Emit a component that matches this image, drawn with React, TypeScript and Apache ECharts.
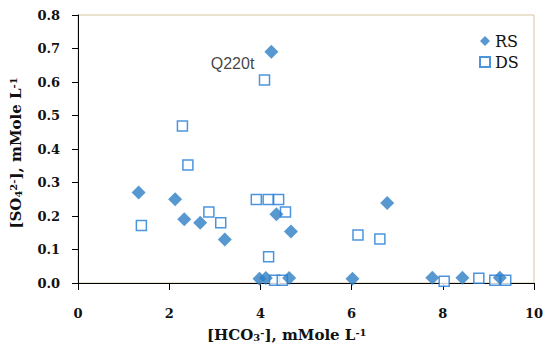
import React, { useEffect, useRef } from "react";
import * as echarts from "echarts";

const rsX = [1.33, 2.13, 2.33, 2.68, 3.22, 4.35, 4.67, 4.24, 6.78, 3.98, 4.12, 4.63, 6.02, 7.77, 8.43, 9.25];
const rsY = [0.27, 0.25, 0.19, 0.18, 0.13, 0.205, 0.154, 0.69, 0.239, 0.013, 0.015, 0.015, 0.013, 0.016, 0.016, 0.016];
const dsX = [1.39, 2.29, 2.41, 2.87, 3.13, 3.91, 4.17, 4.4, 4.55, 4.18, 4.09, 4.31, 4.48, 6.14, 6.62, 8.03, 8.79, 9.14, 9.38];
const dsY = [0.172, 0.469, 0.352, 0.212, 0.18, 0.249, 0.249, 0.249, 0.212, 0.078, 0.606, 0.008, 0.008, 0.143, 0.131, 0.005, 0.014, 0.008, 0.008];
const seriesNames = ["RS", "DS"];
const labelledPoint = "Q220t";
const labelledIndex = 7;

export default function App() {
  const ref = useRef<HTMLDivElement>(null);
  useEffect(() => {
    if (!ref.current) return;
    const chart = echarts.init(ref.current, undefined, { renderer: "svg" });
    const blue = "#2E7EC4";
    const sqBlue = "#1F7BD6";
    const rsData = rsX.map((x, i) => {
      if (i === labelledIndex) {
        return {
          value: [x, rsY[i]],
          label: {
            show: true,
            formatter: labelledPoint,
            position: "left",
            distance: 10,
            offset: [0, 12],
            fontFamily: "Liberation Sans",
            fontSize: 16,
            color: "#111",
          },
        };
      }
      return [x, rsY[i]];
    });
    const dsData = dsX.map((x, i) => [x, dsY[i]]);
    const titleFont = { fontFamily: "DejaVu Serif", fontWeight: "bold", fontSize: 15, fill: "#111" };
    const rich = {
      sub: { fontFamily: "DejaVu Serif", fontWeight: "bold", fontSize: 10, verticalAlign: "bottom", fill: "#111", color: "#111" },
      sup: { fontFamily: "DejaVu Serif", fontWeight: "bold", fontSize: 10, verticalAlign: "top", fill: "#111", color: "#111" },
    };
    chart.setOption({
      animation: false,
      grid: {
        left: 78,
        top: 15,
        right: 16,
        bottom: 72,
        show: true,
        borderColor: "#D3C6A0",
        borderWidth: 1,
        backgroundColor: "transparent",
      },
      legend: {
        orient: "vertical",
        left: 474,
        top: 28,
        itemWidth: 10,
        itemHeight: 10,
        itemGap: 5,
        itemTextGap: 8,
        textStyle: { fontFamily: "DejaVu Serif", fontSize: 16, color: "#111" },
        data: [
          { name: seriesNames[0], icon: "diamond" },
          { name: seriesNames[1], icon: "rect" },
        ],
      },
      xAxis: {
        type: "value",
        min: 0,
        max: 10,
        interval: 2,
        splitLine: { show: false },
        axisLine: { show: true, onZero: false, lineStyle: { color: "#000", width: 1 } },
        axisTick: { show: true, length: 7, inside: false, lineStyle: { color: "#000" } },
        axisLabel: { margin: 24, fontFamily: "DejaVu Serif", fontWeight: "bold", fontSize: 13, color: "#111" },
      },
      yAxis: {
        type: "value",
        min: 0,
        max: 0.8,
        interval: 0.1,
        splitLine: { show: false },
        axisLine: { show: true, onZero: false, lineStyle: { color: "#000", width: 1 } },
        axisTick: { show: true, length: 6, inside: false, lineStyle: { color: "#000" } },
        axisLabel: {
          margin: 18,
          fontFamily: "DejaVu Serif",
          fontWeight: "bold",
          fontSize: 13,
          color: "#111",
          formatter: (v: number) => v.toFixed(1),
        },
      },
      graphic: [
        {
          type: "text",
          left: 207,
          top: 327,
          style: {
            text: "[HCO{sub|3}{sup|-}], mMole L{sup|-1}",
            ...titleFont,
            rich,
          },
        },
        {
          type: "text",
          x: 16,
          y: 153,
          rotation: Math.PI / 2,
          style: {
            text: "[SO{sub|4}{sup|2-}], mMole L{sup|-1}",
            ...titleFont,
            align: "center",
            verticalAlign: "middle",
            rich,
          },
        },
      ],
      series: [
        {
          name: seriesNames[1],
          type: "scatter",
          symbol: "rect",
          symbolSize: 10,
          itemStyle: { color: "#fff", borderColor: sqBlue, borderWidth: 1.5 },
          data: dsData,
          z: 2,
        },
        {
          name: seriesNames[0],
          type: "scatter",
          symbol: "diamond",
          symbolSize: 14,
          itemStyle: { color: blue },
          data: rsData,
          z: 3,
        },
      ],
    });
    return () => chart.dispose();
  }, []);
  return (
    <div
      ref={ref}
      style={{ position: "fixed", left: 0, top: 0, width: 550, height: 355, background: "#fff" }}
    />
  );
}
